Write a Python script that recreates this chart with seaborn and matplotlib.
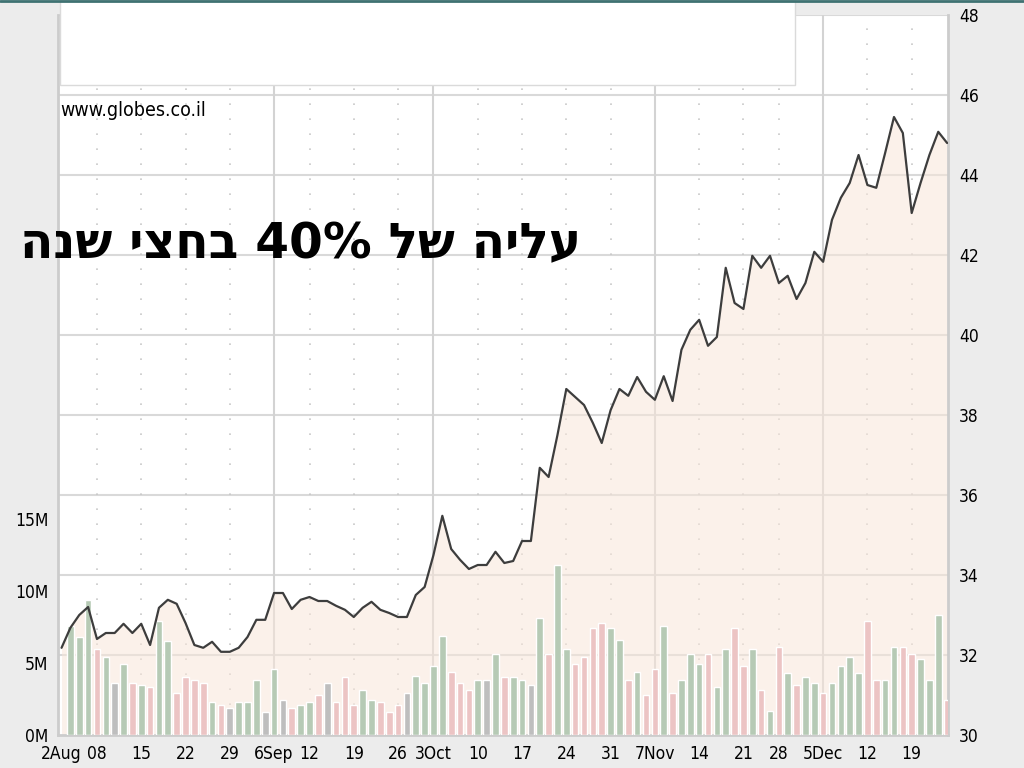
import re
import numpy as np
import pandas as pd
import seaborn as sns
import matplotlib.pyplot as plt
from matplotlib.patches import Rectangle
from matplotlib.lines import Line2D

# trading days shown on the chart (Aug 2 - Dec 23, 2005)
all_days = pd.bdate_range("2005-08-02", "2005-12-23")
missing_days = pd.to_datetime(["2005-09-05", "2005-09-30", "2005-11-24"])
dates = all_days.drop(missing_days)

# closing price
price = [32.18, 32.68, 33.00, 33.20, 32.40, 32.55, 32.55, 32.78, 32.55, 32.78,
         32.25, 33.18, 33.38, 33.28, 32.80, 32.25, 32.18, 32.33, 32.08, 32.08,
         32.18, 32.45, 32.88, 32.88, 33.55, 33.55, 33.15, 33.38, 33.45, 33.35,
         33.35, 33.23, 33.13, 32.95, 33.18, 33.33, 33.13, 33.05, 32.95, 32.95,
         33.50, 33.70, 34.50, 35.48, 34.65, 34.38, 34.15, 34.25, 34.25, 34.58,
         34.30, 34.35, 34.85, 34.85, 36.68, 36.45, 37.50, 38.65, 38.45, 38.25,
         37.80, 37.30, 38.12, 38.65, 38.48, 38.95, 38.58, 38.38, 38.97, 38.35,
         39.63, 40.13, 40.38, 39.73, 39.95, 41.68, 40.80, 40.65, 41.98, 41.68,
         41.98, 41.30, 41.48, 40.90, 41.30, 42.08, 41.83, 42.88, 43.43, 43.80,
         44.50, 43.75, 43.68, 44.55, 45.45, 45.05, 43.05, 43.80, 44.50, 45.08,
         44.80]

# daily volume in millions (no bar on the first day)
volume = [np.nan, 7.6, 6.8, 9.4, 6.0, 5.4, 3.6, 4.9, 3.6, 3.5,
          3.3, 7.9, 6.5, 2.9, 4.0, 3.8, 3.6, 2.3, 2.1, 1.9,
          2.3, 2.3, 3.8, 1.6, 4.6, 2.4, 1.9, 2.1, 2.3, 2.8,
          3.6, 2.3, 4.0, 2.1, 3.1, 2.4, 2.3, 1.6, 2.1, 2.9,
          4.1, 3.6, 4.8, 6.9, 4.4, 3.6, 3.1, 3.8, 3.8, 5.6,
          4.0, 4.0, 3.8, 3.5, 8.1, 5.6, 11.8, 6.0, 4.9, 5.4,
          7.4, 7.8, 7.4, 6.6, 3.8, 4.4, 2.8, 4.6, 7.6, 2.9,
          3.8, 5.6, 4.9, 5.6, 3.3, 6.0, 7.4, 4.8, 6.0, 3.1,
          1.7, 6.1, 4.3, 3.5, 4.0, 3.6, 2.9, 3.6, 4.8, 5.4,
          4.3, 7.9, 3.8, 3.8, 6.1, 6.1, 5.6, 5.3, 3.8, 8.3,
          2.4]

tick_dates = ["2005-08-02", "2005-08-08", "2005-08-15", "2005-08-22", "2005-08-29",
              "2005-09-06", "2005-09-12", "2005-09-19", "2005-09-26", "2005-10-03",
              "2005-10-10", "2005-10-17", "2005-10-24", "2005-10-31", "2005-11-07",
              "2005-11-14", "2005-11-21", "2005-11-28", "2005-12-05", "2005-12-12",
              "2005-12-19"]
tick_labels = ["2Aug", "08", "15", "22", "29", "6Sep", "12", "19", "26", "3Oct",
               "10", "17", "24", "31", "7Nov", "14", "21", "28", "5Dec", "12", "19"]
month_labels = ["6Sep", "3Oct", "7Nov", "5Dec"]

price_ticks = list(range(30, 49, 2))
vol_ticks = [0, 5, 10, 15]
vol_labels = ["0M", "5M", "10M", "15M"]

title = "עליה של 40% בחצי שנה"
source = "www.globes.co.il"

# ---------------------------------------------------------------
day = np.arange(len(dates))
tick_idx = [dates.get_loc(pd.Timestamp(d)) for d in tick_dates]

change = np.sign(np.round(np.diff(price), 2))
direction = ["flat"] + [{1: "up", -1: "down", 0: "flat"}[int(c)] for c in change]
df = pd.DataFrame({"day": day, "price": price, "volume": volume, "dir": direction})

sns.set_theme(style="white")
plt.rcParams["font.family"] = ["DejaVu Sans"]
small = dict(family="DejaVu Sans", fontstretch="condensed", fontsize=12.5)

fig = plt.figure(figsize=(10.24, 7.68), dpi=100, facecolor="#ececec")
ax = fig.add_axes([58 / 1024, 33 / 768, 890 / 1024, 720 / 768])
ax.set_facecolor("white")

# grid
for v in price_ticks[1:]:
    ax.axhline(v, color="#d9d9d9", lw=1.5, zorder=1)
for i, lab in zip(tick_idx[1:], tick_labels[1:]):
    if lab in month_labels:
        ax.axvline(i, color="#d3d3d3", lw=1.5, zorder=1)
    else:
        ax.axvline(i, color="#c8c8c8", lw=1.2, ls=(0, (1, 8)), zorder=1)

ax.fill_between(df["day"], df["price"], 30, color="#f8e6da", alpha=0.55, lw=0, zorder=2)

# volume bars
axv = ax.twinx()
sns.barplot(data=df.dropna(), x="day", y="volume", hue="dir", native_scale=True,
            palette={"up": "#b6cab5", "down": "#ecc4c4", "flat": "#bebebe"},
            dodge=False, width=0.75, saturation=1, errorbar=None, legend=False, ax=axv)
axv.set_ylim(0, 50)
axv.yaxis.tick_left()
axv.set_yticks(vol_ticks)
axv.set_yticklabels(vol_labels, **small)
axv.tick_params(axis="y", length=0, pad=7, colors="black")
axv.set_xlabel("")
axv.set_ylabel("")
for s in axv.spines.values():
    s.set_visible(False)

# price line
axl = ax.twinx()
sns.lineplot(data=df, x="day", y="price", color="#3d3d3d", lw=1.6, ax=axl)
axl.set_ylim(30, 48)
axl.set_yticks([])
axl.set_xlabel("")
axl.set_ylabel("")
for s in axl.spines.values():
    s.set_visible(False)

# price axis (right) and date axis
ax.set_ylim(30, 48)
ax.set_xlim(-0.4, 100.1)
ax.yaxis.tick_right()
ax.set_yticks(price_ticks)
ax.set_yticklabels([str(v) for v in price_ticks], **small)
ax.set_xticks(tick_idx)
ax.set_xticklabels(tick_labels, **small)
ax.tick_params(axis="both", length=0, colors="black")
ax.tick_params(axis="y", pad=8)
ax.tick_params(axis="x", pad=7)
for s in ["left", "right", "bottom"]:
    ax.spines[s].set_color("#cccccc")
    ax.spines[s].set_linewidth(2)
ax.spines["top"].set_visible(False)

# frame decorations
fig.add_artist(Line2D([0, 1], [1 - 1 / 768, 1 - 1 / 768], color="#3f7272", lw=2))
fig.add_artist(Rectangle((60 / 1024, 1 - 85 / 768), 735 / 1024, 85 / 768,
                         facecolor="white", edgecolor="#dadada", lw=1))

fig.text(60 / 1024, 1 - 116 / 768, source, family="DejaVu Sans", fontstretch="condensed",
         fontsize=14, color="black")


def visual_order(s):
    rev = s[::-1]
    return re.sub(r"[0-9%A-Za-z.]+", lambda m: m.group(0)[::-1], rev)


fig.text(20 / 1024, 1 - 258 / 768, visual_order(title), fontsize=35, fontweight="bold",
         color="black", family="DejaVu Sans")

fig.savefig("out.png", dpi=100, facecolor=fig.get_facecolor())
